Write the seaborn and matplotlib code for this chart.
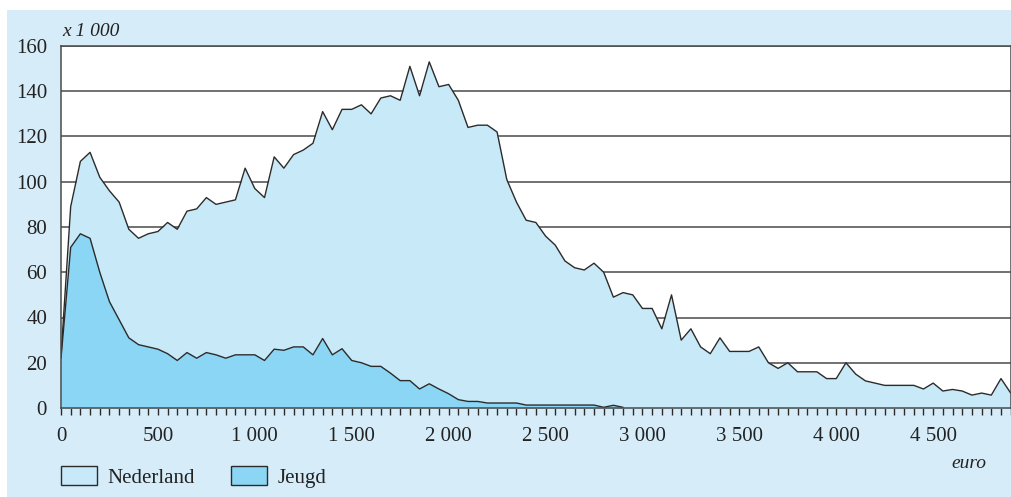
import numpy as np
import pandas as pd
import matplotlib.pyplot as plt
import seaborn as sns
from matplotlib.patches import Patch, Rectangle
from matplotlib.ticker import MultipleLocator, FuncFormatter

# inkomen in stappen van 50 euro
euro = list(range(0, 4950, 50))

nederland = [23, 89, 109, 113, 102, 96, 91, 79, 75, 77,
             78, 82, 79, 87, 88, 93, 90, 91, 92, 106,
             97, 93, 111, 106, 112, 114, 117, 131, 123, 132,
             132, 134, 130, 137, 138, 136, 151, 138, 153, 142,
             143, 136, 124, 125, 125, 122, 101, 91, 83, 82,
             76, 72, 65, 62, 61, 64, 60, 49, 51, 50,
             44, 44, 35, 50, 30, 35, 27, 24, 31, 25,
             25, 25, 27, 20, 17.5, 20, 16, 16, 16, 13,
             13, 20, 15, 12, 11, 10, 10, 10, 10, 8.4,
             11, 7.5, 8.2, 7.5, 5.7, 6.6, 5.7, 13, 6.6]

jeugd = [22, 71, 77, 75, 60, 47, 39, 31, 28, 27,
         26, 24, 21, 24.5, 22, 24.5, 23.5, 22, 23.5, 23.5,
         23.5, 21, 26, 25.5, 27, 27, 23.5, 30.7, 23.5, 26.2,
         21, 20, 18.4, 18.4, 15.4, 12.1, 12.1, 8.4, 10.7, 8.4,
         6.3, 3.7, 2.9, 2.9, 2.2, 2.2, 2.2, 2.2, 1.3, 1.3,
         1.3, 1.3, 1.3, 1.3, 1.3, 1.3, 0.3, 1.2, 0.3]

df_nl = pd.DataFrame({'euro': euro, 'aantal': nederland})
df_jg = pd.DataFrame({'euro': euro[:len(jeugd)], 'aantal': jeugd})

panel_kleur = '#d6edf9'
nl_kleur = '#c7e9f8'
jeugd_kleur = '#8bd6f4'
lijn_kleur = '#2b2b2b'
tekst_kleur = '#222222'

sns.set_style('white')
plt.rcParams['font.family'] = ['Liberation Serif', 'DejaVu Serif']

fig = plt.figure(figsize=(10.12, 4.97), dpi=100, facecolor='white')
# lichtblauwe achtergrond achter alles
fig.add_artist(Rectangle((7 / 1012, 0), 1, (497 - 10) / 497,
                         transform=fig.transFigure, facecolor=panel_kleur,
                         edgecolor='none', zorder=-10))

ax = fig.add_axes([61 / 1012, 89 / 497, 949.7 / 1012, 362 / 497])
ax.set_facecolor('white')

# horizontale rasterlijnen
for y in range(20, 161, 20):
    ax.axhline(y, color='#4a4a4a', lw=1.1, zorder=1)

ax.fill_between(df_nl['euro'], df_nl['aantal'], color=nl_kleur, lw=0, zorder=2)
ax.fill_between(df_jg['euro'], df_jg['aantal'], color=jeugd_kleur, lw=0, zorder=3)
sns.lineplot(data=df_nl, x='euro', y='aantal', color=lijn_kleur, lw=1.0, ax=ax, zorder=4)
sns.lineplot(data=df_jg, x='euro', y='aantal', color=lijn_kleur, lw=1.0, ax=ax, zorder=5)

ax.set_xlim(0, 4900)
ax.set_ylim(0, 160)
ax.set_xlabel('')
ax.set_ylabel('')

ax.xaxis.set_major_locator(MultipleLocator(500))
ax.xaxis.set_minor_locator(MultipleLocator(50))
ax.yaxis.set_major_locator(MultipleLocator(20))
fmt = FuncFormatter(lambda v, p: f'{int(v):,}'.replace(',', ' '))
ax.xaxis.set_major_formatter(fmt)

ax.tick_params(axis='x', which='both', direction='out', length=5, width=1,
               color=lijn_kleur, bottom=True, labelsize=15, pad=9,
               labelcolor=tekst_kleur)
ax.tick_params(axis='y', length=0, labelsize=15, pad=10, labelcolor=tekst_kleur)

for side in ['left', 'right', 'top', 'bottom']:
    ax.spines[side].set_visible(True)
    ax.spines[side].set_color('#4a4a4a')
    ax.spines[side].set_linewidth(1.1)
    ax.spines[side].set_zorder(6)

fig.text(62 / 1012, (497 - 31) / 497, 'x 1 000', fontsize=14, style='italic',
         color=tekst_kleur, va='center', ha='left')
fig.text(986 / 1012, (497 - 463) / 497, 'euro', fontsize=14, style='italic',
         color=tekst_kleur, va='center', ha='right')

handles = [Patch(facecolor=nl_kleur, edgecolor=lijn_kleur, lw=1, label='Nederland'),
           Patch(facecolor=jeugd_kleur, edgecolor=lijn_kleur, lw=1, label='Jeugd')]
fig.legend(handles=handles, loc='center left', bbox_to_anchor=(61 / 1012, 20 / 497),
           ncol=2, frameon=False, fontsize=15, handlelength=1.75, handleheight=1.05,
           handletextpad=0.5, columnspacing=1.7, borderpad=0, borderaxespad=0,
           labelcolor=tekst_kleur)

fig.savefig('out.png', dpi=100, facecolor='white')
